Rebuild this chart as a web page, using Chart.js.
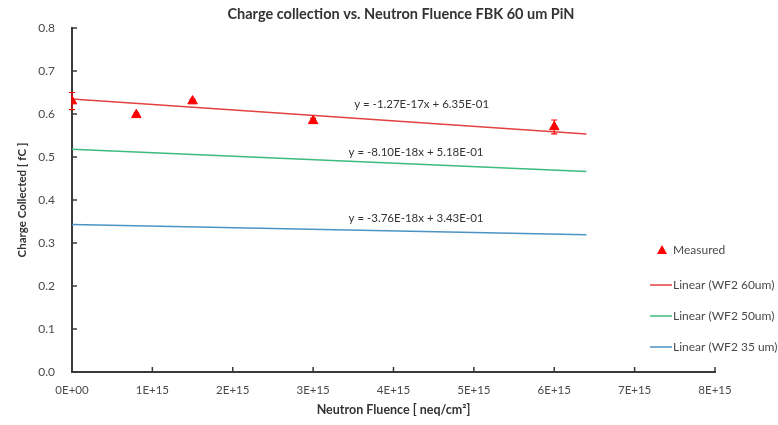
<!DOCTYPE html>
<html>
<head>
<meta charset="utf-8">
<script src="https://cdn.jsdelivr.net/npm/chart.js@4.4.1/dist/chart.umd.min.js"></script>
<style>
  html, body { margin: 0; padding: 0; background: #ffffff; }
  #wrap { width: 778px; height: 425px; }
</style>
</head>
<body>
<div id="wrap"><canvas id="c" width="778" height="425"></canvas></div>
<script>
// Measured charge collection at each neutron fluence
const fluence = [0, 0.8e15, 1.5e15, 3e15, 6e15];
const measured = [0.630, 0.598, 0.630, 0.584, 0.570];
const measuredErr = [0.020, 0.004, 0.004, 0.006, 0.016];

// Linear fits (one per wafer thickness)
const fitNames = ['Linear (WF2 60um)', 'Linear (WF2 50um)', 'Linear (WF2 35 um)'];
const fitSlopes = [-1.27e-17, -8.10e-18, -3.76e-18];
const fitIntercepts = [0.635, 0.518, 0.343];
const fitRange = [0, 6.4e15];
const fitEquations = [
  'y = -1.27E-17x + 6.35E-01',
  'y = -8.10E-18x + 5.18E-01',
  'y = -3.76E-18x + 3.43E-01'
];

// Axis tick labels
const xTickLabels = ['0E+00', '1E+15', '2E+15', '3E+15', '4E+15', '5E+15', '6E+15', '7E+15', '8E+15'];
const yTickLabels = ['0.0', '0.1', '0.2', '0.3', '0.4', '0.5', '0.6', '0.7', '0.8'];

// Styling
const FONT = 'Lato, "Open Sans", "DejaVu Sans", sans-serif';
const MARKER_RED = '#ff0000';
const fitColors = ['#e3403f', '#3dbb7c', '#4b93c6'];
const TEXT = '#4a4a4a';
const TITLE = '#333333';
const AXIS = '#3a3a3a';
// equation label anchors, in data units
const eqAnchors = [[4.35e15, 0.623], [4.28e15, 0.511], [4.28e15, 0.358]];

const fitDatasets = fitNames.map((name, i) => ({
  type: 'line',
  label: name,
  data: fitRange.map(x => ({ x, y: fitIntercepts[i] + fitSlopes[i] * x })),
  borderColor: fitColors[i],
  borderWidth: 1.5,
  pointRadius: 0,
  fill: false,
  tension: 0,
  order: 2
}));

const measuredDataset = {
  type: 'scatter',
  label: 'Measured',
  data: fluence.map((x, i) => ({ x, y: measured[i] })),
  pointStyle: 'triangle',
  pointRadius: 5.5,
  backgroundColor: MARKER_RED,
  borderColor: MARKER_RED,
  borderWidth: 1,
  order: 1
};

const decor = {
  id: 'decor',
  afterDatasetsDraw(chart) {
    const { ctx, scales: { x, y } } = chart;
    // error bars
    ctx.save();
    ctx.strokeStyle = MARKER_RED;
    ctx.lineWidth = 1.2;
    fluence.forEach((fx, i) => {
      const px = x.getPixelForValue(fx);
      const top = y.getPixelForValue(measured[i] + measuredErr[i]);
      const bot = y.getPixelForValue(measured[i] - measuredErr[i]);
      ctx.beginPath();
      ctx.moveTo(px, top); ctx.lineTo(px, bot);
      ctx.moveTo(px - 3, top); ctx.lineTo(px + 3, top);
      ctx.moveTo(px - 3, bot); ctx.lineTo(px + 3, bot);
      ctx.stroke();
    });
    ctx.restore();
  },
  afterDraw(chart) {
    const { ctx, chartArea: ca, scales: { x, y } } = chart;
    ctx.save();

    // inward tick marks
    ctx.strokeStyle = AXIS;
    ctx.lineWidth = 1.5;
    ctx.beginPath();
    x.ticks.forEach(t => {
      const px = x.getPixelForValue(t.value);
      ctx.moveTo(px, ca.bottom + 1); ctx.lineTo(px, ca.bottom - 5);
    });
    y.ticks.forEach(t => {
      const py = y.getPixelForValue(t.value);
      ctx.moveTo(ca.left - 1, py); ctx.lineTo(ca.left + 5, py);
    });
    ctx.stroke();

    // chart title
    ctx.fillStyle = TITLE;
    ctx.textAlign = 'center';
    ctx.textBaseline = 'middle';
    ctx.font = 'bold 14.5px ' + FONT;
    ctx.fillText('Charge collection vs. Neutron Fluence FBK 60 um PiN', 401, 14);

    // axis titles
    ctx.font = 'bold 12.5px ' + FONT;
    ctx.fillText('Neutron Fluence [ neq/cm\u00b2]', (ca.left + ca.right) / 2, 410);
    ctx.save();
    ctx.translate(22, (ca.top + ca.bottom) / 2);
    ctx.rotate(-Math.PI / 2);
    ctx.font = 'bold 11.5px ' + FONT;
    ctx.fillText('Charge Collected [ fC ]', 0, 0);
    ctx.restore();

    // fit equations
    ctx.font = '11.5px ' + FONT;
    ctx.fillStyle = TITLE;
    fitEquations.forEach((txt, i) => {
      ctx.fillText(txt, x.getPixelForValue(eqAnchors[i][0]), y.getPixelForValue(eqAnchors[i][1]));
    });

    // legend
    ctx.textAlign = 'left';
    ctx.font = '12px ' + FONT;
    const lx = 650, ly = [250, 285, 316, 347];
    ctx.fillStyle = MARKER_RED;
    ctx.beginPath();
    ctx.moveTo(662, ly[0] - 5);
    ctx.lineTo(667, ly[0] + 4);
    ctx.lineTo(657, ly[0] + 4);
    ctx.closePath();
    ctx.fill();
    ctx.fillStyle = TEXT;
    ctx.fillText('Measured', 673, ly[0]);
    fitNames.forEach((name, i) => {
      ctx.strokeStyle = fitColors[i];
      ctx.lineWidth = 1.5;
      ctx.beginPath();
      ctx.moveTo(lx, ly[i + 1]); ctx.lineTo(lx + 22, ly[i + 1]);
      ctx.stroke();
      ctx.fillStyle = TEXT;
      ctx.fillText(name, lx + 23, ly[i + 1]);
    });

    ctx.restore();
  }
};

new Chart(document.getElementById('c'), {
  data: { datasets: [measuredDataset, ...fitDatasets] },
  options: {
    responsive: false,
    animation: false,
    devicePixelRatio: 1,
    layout: { padding: { top: 28, right: 63, left: 0, bottom: 0 } },
    plugins: {
      legend: { display: false },
      title: { display: false },
      tooltip: { enabled: false }
    },
    scales: {
      x: {
        type: 'linear',
        min: 0,
        max: 8e15,
        afterFit: s => { s.height = 53; },
        afterBuildTicks: s => { s.ticks = xTickLabels.map((_, i) => ({ value: i * 1e15 })); },
        ticks: {
          callback: (v, i) => xTickLabels[i],
          color: TEXT,
          font: { family: FONT, size: 11.5 },
          padding: 11,
          maxRotation: 0,
          autoSkip: false
        },
        grid: { display: false, drawTicks: false },
        border: { display: true, color: AXIS, width: 2 }
      },
      y: {
        type: 'linear',
        min: 0,
        max: 0.8,
        afterFit: s => { s.width = 72; },
        afterBuildTicks: s => { s.ticks = yTickLabels.map((_, i) => ({ value: i / 10 })); },
        ticks: {
          callback: (v, i) => yTickLabels[i],
          color: TEXT,
          font: { family: FONT, size: 12 },
          padding: 17
        },
        grid: { display: false, drawTicks: false },
        border: { display: true, color: AXIS, width: 2 }
      }
    }
  },
  plugins: [decor]
});
</script>
</body>
</html>
